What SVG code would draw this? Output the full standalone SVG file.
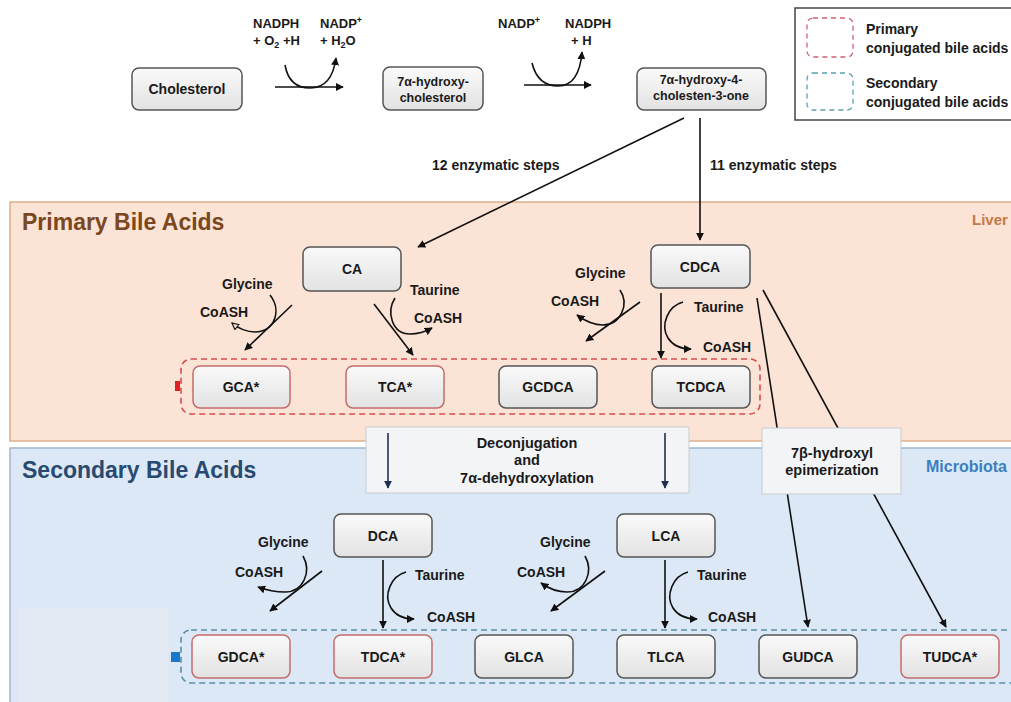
<svg xmlns="http://www.w3.org/2000/svg" width="1011" height="702" viewBox="0 0 1011 702">
<defs>
<linearGradient id="g" x1="0" y1="0" x2="0" y2="1"><stop offset="0" stop-color="#fafafa"/><stop offset="1" stop-color="#e2e2e2"/></linearGradient>
<marker id="ah" viewBox="0 0 10 10" refX="9" refY="5" markerWidth="8" markerHeight="8" orient="auto-start-reverse" markerUnits="userSpaceOnUse"><path d="M0,0 L10,5 L0,10 z" fill="#111"/></marker>
<marker id="ahn" viewBox="0 0 10 10" refX="9" refY="5" markerWidth="8" markerHeight="8" orient="auto" markerUnits="userSpaceOnUse"><path d="M0,0 L10,5 L0,10 z" fill="#1f2f4f"/></marker>
<marker id="aho" viewBox="0 0 10 10" refX="9" refY="5" markerWidth="8" markerHeight="8" orient="auto" markerUnits="userSpaceOnUse"><path d="M1,1 L9,5 L1,9 z" fill="#fbe3d5" stroke="#111" stroke-width="1.5"/></marker>
</defs>
<style>
text{font-family:"Liberation Sans",Arial,sans-serif;font-weight:bold;fill:#1a1a1a}
.lbl{font-size:14px}
.top{font-size:13px}
.bt{font-size:14px;text-anchor:middle}
.st{font-size:12.5px;text-anchor:middle}
.mt{font-size:14.5px;text-anchor:middle}
.box{fill:url(#g);stroke:#555;stroke-width:1.5}
.rbox{fill:url(#g);stroke:#c46c6c;stroke-width:1.5}
.ln{fill:none;stroke:#111;stroke-width:1.6}
.arr{fill:none;stroke:#111;stroke-width:1.6;marker-end:url(#ah)}
</style>
<rect width="1011" height="702" fill="#ffffff"/>
<g id="region-primary">
<rect x="10" y="202" width="1010" height="239" fill="#fbe3d5" stroke="#ddb08a" stroke-width="1.5"/>
<text x="22" y="230" style="font-size:23px;fill:#7a4820">Primary Bile Acids</text>
<text x="972" y="225" style="font-size:15px;fill:#c47a48">Liver</text>
</g>
<g id="region-secondary">
<rect x="10" y="448" width="1010" height="260" fill="#dce8f5" stroke="#9fb6cf" stroke-width="1.5"/>
<rect x="18" y="608" width="150" height="94" fill="#e2e9f3"/>
<text x="22" y="478" style="font-size:23px;fill:#284a70">Secondary Bile Acids</text>
<text x="926" y="472" style="font-size:16px;fill:#3a7fc0">Microbiota</text>
</g>
<g id="legend">
<rect x="795" y="8" width="222" height="112" fill="#ffffff" stroke="#444" stroke-width="1.5"/>
<rect x="807" y="18" width="46" height="39" rx="6" fill="none" stroke="#d06070" stroke-width="1.3" stroke-dasharray="5 4"/>
<rect x="807" y="73" width="46" height="37" rx="6" fill="none" stroke="#5aa0b0" stroke-width="1.3" stroke-dasharray="5 4"/>
<text class="lbl" x="866" y="34">Primary</text>
<text class="lbl" x="866" y="53">conjugated bile acids</text>
<text class="lbl" x="866" y="88">Secondary</text>
<text class="lbl" x="866" y="107">conjugated bile acids</text>
</g>
<g id="group-primary-conjugated">
<rect x="181" y="359" width="579" height="55" rx="10" fill="none" stroke="#d84c4c" stroke-width="1.6" stroke-dasharray="6 4"/>
<rect x="175" y="381" width="5" height="10" fill="#e02020"/>
</g>
<g id="group-secondary-conjugated">
<rect x="181" y="630" width="840" height="53" rx="10" fill="none" stroke="#5a8ea8" stroke-width="1.6" stroke-dasharray="6 4"/>
<rect x="171" y="652" width="9" height="10" fill="#1a78c8"/>
</g>
<g id="connectors">
<line class="ln" x1="757" y1="298" x2="808" y2="627" style="marker-end:url(#ah)"/>
<line class="ln" x1="763" y1="290" x2="946" y2="627" style="marker-end:url(#ah)"/>
<line class="arr" x1="275" y1="87" x2="343" y2="87"/>
<path class="arr" d="M285,65 C288,82 298,88 310,88 C323,88 333,80 336,58"/>
<line class="arr" x1="524" y1="85" x2="591" y2="85"/>
<path class="arr" d="M532,63 C536,79 546,86 558,86 C571,86 580,76 582,52"/>
<line class="arr" x1="684" y1="118" x2="418" y2="247"/>
<line class="arr" x1="700" y1="118" x2="700" y2="240"/>
<line class="arr" x1="292" y1="305" x2="245" y2="350"/>
<path class="ln" d="M270,295 C282,310 275,332 255,332 C246,332 238,328 232,323" style="marker-end:url(#aho)"/>
<line class="arr" x1="374" y1="304" x2="413" y2="355"/>
<path class="arr" d="M395,298 C386,312 392,334 410,334 C418,334 425,332 432,328"/>
<line class="arr" x1="640" y1="302" x2="586" y2="341"/>
<path class="arr" d="M620,290 C630,305 620,325 603,325 C594,325 585,321 577,315"/>
<line class="arr" x1="661" y1="293" x2="661" y2="358"/>
<path class="arr" d="M683,302 C668,306 660,325 668,338 C673,346 680,349 691,349"/>
<line class="arr" x1="322" y1="571" x2="270" y2="611"/>
<path class="arr" d="M303,556 C312,572 303,592 285,592 C276,592 266,590 258,587"/>
<line class="arr" x1="383" y1="560" x2="383" y2="628"/>
<path class="arr" d="M406,572 C391,576 383,595 391,608 C396,616 404,619 414,619"/>
<line class="arr" x1="605" y1="571" x2="551" y2="611"/>
<path class="arr" d="M585,556 C594,572 585,592 567,592 C558,592 548,588 541,583"/>
<line class="arr" x1="665" y1="560" x2="665" y2="628"/>
<path class="arr" d="M688,572 C673,576 665,595 673,608 C678,616 686,619 697,619"/>
</g>
<g id="labels">
<text class="top" x="253" y="28">NADPH</text>
<text class="top" x="253" y="45">+ O<tspan font-size="9" dy="3">2</tspan><tspan dy="-3"> +H</tspan></text>
<text class="top" x="320" y="28">NADP<tspan font-size="9" dy="-5">+</tspan></text>
<text class="top" x="320" y="45">+ H<tspan font-size="9" dy="3">2</tspan><tspan dy="-3">O</tspan></text>
<text class="top" x="498" y="28">NADP<tspan font-size="9" dy="-5">+</tspan></text>
<text class="top" x="565" y="28">NADPH</text>
<text class="top" x="571" y="45">+ H</text>
<text class="lbl" x="432" y="170">12 enzymatic steps</text>
<text class="lbl" x="710" y="170">11 enzymatic steps</text>
<text class="lbl" x="222" y="289">Glycine</text>
<text class="lbl" x="200" y="317">CoASH</text>
<text class="lbl" x="410" y="295">Taurine</text>
<text class="lbl" x="414" y="323">CoASH</text>
<text class="lbl" x="575" y="278">Glycine</text>
<text class="lbl" x="551" y="306">CoASH</text>
<text class="lbl" x="694" y="312">Taurine</text>
<text class="lbl" x="703" y="352">CoASH</text>
<text class="lbl" x="258" y="547">Glycine</text>
<text class="lbl" x="235" y="577">CoASH</text>
<text class="lbl" x="415" y="580">Taurine</text>
<text class="lbl" x="427" y="622">CoASH</text>
<text class="lbl" x="540" y="547">Glycine</text>
<text class="lbl" x="517" y="577">CoASH</text>
<text class="lbl" x="697" y="580">Taurine</text>
<text class="lbl" x="708" y="622">CoASH</text>
</g>
<g id="node-cholesterol"><rect class="box" x="132" y="68" width="110" height="42" rx="7"/><text class="bt" x="187" y="94">Cholesterol</text></g>
<g id="node-7a-hydroxycholesterol"><rect class="box" x="383" y="67" width="100" height="43" rx="7"/><text class="st" x="433" y="86">7α-hydroxy-</text><text class="st" x="433" y="102">cholesterol</text></g>
<g id="node-7a-hydroxy-4-cholesten-3-one"><rect class="box" x="637" y="68" width="129" height="42" rx="7"/><text class="st" x="701" y="84">7α-hydroxy-4-</text><text class="st" x="701" y="100">cholesten-3-one</text></g>
<g id="node-CA"><rect class="box" x="303" y="247" width="98" height="44" rx="7"/><text class="bt" x="352" y="274">CA</text></g>
<g id="node-CDCA"><rect class="box" x="651" y="245" width="99" height="43" rx="7"/><text class="bt" x="700" y="272">CDCA</text></g>
<g id="node-GCA"><rect class="rbox" x="193" y="366" width="97" height="42" rx="7"/><text class="bt" x="241" y="392">GCA*</text></g>
<g id="node-TCA"><rect class="rbox" x="346" y="366" width="98" height="42" rx="7"/><text class="bt" x="395" y="392">TCA*</text></g>
<g id="node-GCDCA"><rect class="box" x="499" y="366" width="98" height="42" rx="7"/><text class="bt" x="548" y="392">GCDCA</text></g>
<g id="node-TCDCA"><rect class="box" x="652" y="366" width="98" height="42" rx="7"/><text class="bt" x="701" y="392">TCDCA</text></g>
<g id="node-deconjugation"><rect x="366" y="427" width="323" height="66" fill="#f3f4f6" stroke="#c8ccd2" stroke-width="1"/><line x1="388" y1="433" x2="388" y2="488" stroke="#1f2f4f" stroke-width="1.6" marker-end="url(#ahn)"/><line x1="665" y1="433" x2="665" y2="488" stroke="#1f2f4f" stroke-width="1.6" marker-end="url(#ahn)"/><text class="mt" x="527" y="448">Deconjugation</text><text class="mt" x="527" y="465">and</text><text class="mt" x="527" y="483">7α-dehydroxylation</text></g>
<g id="node-epimerization"><rect x="762" y="428" width="139" height="66" fill="#f3f4f6" stroke="#c8ccd2" stroke-width="1"/><text class="mt" x="832" y="458">7β-hydroxyl</text><text class="mt" x="832" y="475">epimerization</text></g>
<g id="node-DCA"><rect class="box" x="334" y="514" width="98" height="43" rx="7"/><text class="bt" x="383" y="541">DCA</text></g>
<g id="node-LCA"><rect class="box" x="617" y="514" width="98" height="43" rx="7"/><text class="bt" x="666" y="541">LCA</text></g>
<g id="node-GDCA"><rect class="rbox" x="192" y="635" width="98" height="43" rx="7"/><text class="bt" x="241" y="662">GDCA*</text></g>
<g id="node-TDCA"><rect class="rbox" x="334" y="635" width="98" height="43" rx="7"/><text class="bt" x="383" y="662">TDCA*</text></g>
<g id="node-GLCA"><rect class="box" x="475" y="635" width="98" height="43" rx="7"/><text class="bt" x="524" y="662">GLCA</text></g>
<g id="node-TLCA"><rect class="box" x="617" y="635" width="98" height="43" rx="7"/><text class="bt" x="666" y="662">TLCA</text></g>
<g id="node-GUDCA"><rect class="box" x="759" y="635" width="98" height="43" rx="7"/><text class="bt" x="808" y="662">GUDCA</text></g>
<g id="node-TUDCA"><rect class="rbox" x="901" y="635" width="98" height="43" rx="7"/><text class="bt" x="950" y="662">TUDCA*</text></g>
</svg>
